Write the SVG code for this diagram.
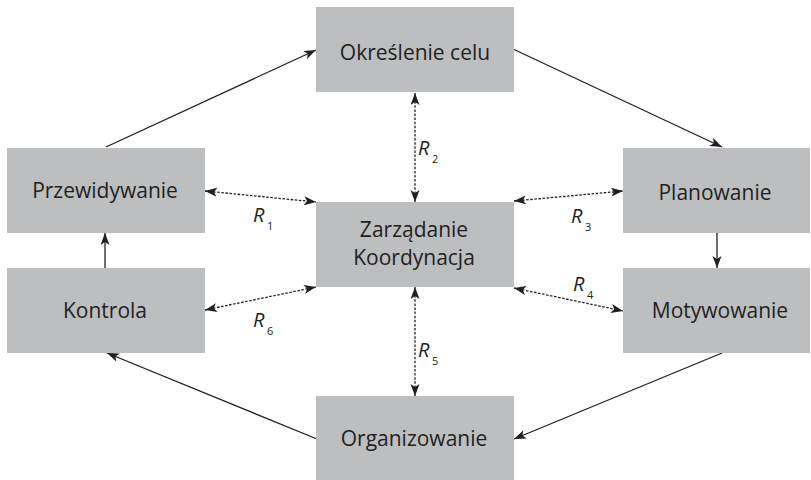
<svg xmlns="http://www.w3.org/2000/svg" width="811" height="480" viewBox="0 0 811 480">
<defs>
<style>
.box{fill:#bcbec0}
.lbl{font-family:"Open Sans","Noto Sans",sans-serif;font-size:21px;fill:#231f20;text-anchor:middle}
.r{font-family:"Open Sans","Noto Sans",sans-serif;font-size:20px;font-style:italic;fill:#231f20}
.sub{font-family:"Open Sans","Noto Sans",sans-serif;font-size:11px;fill:#231f20}
.solid{stroke:#231f20;stroke-width:1.3;fill:none;marker-end:url(#ah)}
.dot{stroke:#231f20;stroke-width:1.3;fill:none;stroke-dasharray:2.5 1.6;marker-start:url(#ah);marker-end:url(#ah)}
</style>
<marker id="ah" markerUnits="userSpaceOnUse" markerWidth="14" markerHeight="10" refX="12" refY="4.5" orient="auto-start-reverse">
<path d="M0,0 L12,4.5 L0,9 L3,4.5 Z" fill="#231f20"/>
</marker>
</defs>
<rect width="811" height="480" fill="#ffffff"/>
<g id="connectors">
<line class="solid" x1="106" y1="147" x2="316" y2="50"/>
<line class="solid" x1="513" y1="49" x2="722" y2="147"/>
<line class="solid" x1="717" y1="233" x2="717" y2="268"/>
<line class="solid" x1="722" y1="353" x2="514" y2="439"/>
<line class="solid" x1="317" y1="439" x2="107" y2="353"/>
<line class="solid" x1="105" y1="268" x2="105" y2="233"/>
<line class="dot" x1="205" y1="191" x2="316" y2="202"/>
<line class="dot" x1="205" y1="310" x2="316" y2="287"/>
<line class="dot" x1="514" y1="201" x2="623" y2="191"/>
<line class="dot" x1="514" y1="288" x2="623" y2="311"/>
<line class="dot" x1="415" y1="93" x2="415" y2="202"/>
<line class="dot" x1="415" y1="287" x2="415" y2="396"/>
<text class="r" x="253" y="222">R</text><text class="sub" x="267" y="230">1</text>
<text class="r" x="418" y="155">R</text><text class="sub" x="432" y="163">2</text>
<text class="r" x="571" y="223">R</text><text class="sub" x="585" y="231">3</text>
<text class="r" x="573" y="291">R</text><text class="sub" x="587" y="299">4</text>
<text class="r" x="418" y="357">R</text><text class="sub" x="432" y="365">5</text>
<text class="r" x="253" y="327">R</text><text class="sub" x="267" y="335">6</text>
</g>
<g id="okreslenie"><rect class="box" x="316" y="7" width="198" height="85"/><text class="lbl" x="415" y="60">Określenie celu</text></g>
<g id="przewidywanie"><rect class="box" x="7" y="148" width="198" height="85"/><text class="lbl" x="105" y="198">Przewidywanie</text></g>
<g id="kontrola"><rect class="box" x="7" y="268" width="198" height="85"/><text class="lbl" x="105" y="318">Kontrola</text></g>
<g id="zarzadanie"><rect class="box" x="316" y="202" width="198" height="85"/><text class="lbl" x="414" y="237">Zarządanie</text><text class="lbl" x="414" y="265">Koordynacja</text></g>
<g id="planowanie"><rect class="box" x="623" y="148" width="187" height="85"/><text class="lbl" x="715" y="200">Planowanie</text></g>
<g id="motywowanie"><rect class="box" x="623" y="268" width="187" height="85"/><text class="lbl" x="720" y="318">Motywowanie</text></g>
<g id="organizowanie"><rect class="box" x="316" y="396" width="198" height="85"/><text class="lbl" x="414" y="446">Organizowanie</text></g>
</svg>
